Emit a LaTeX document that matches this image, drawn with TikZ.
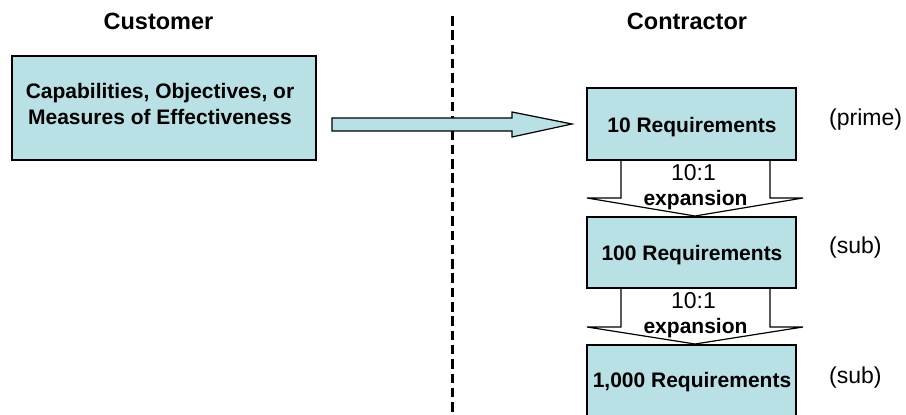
\documentclass[tikz,border=0pt]{standalone}
\usepackage{fontspec}
\setmainfont{Liberation Sans}
\definecolor{boxfill}{RGB}{185,224,228}
\tikzset{
  reqbox/.style={draw=black, line width=1.4pt, fill=boxfill, inner sep=0pt},
  boldtxt/.style={font=\fontsize{21}{26}\selectfont\bfseries, inner sep=0pt, anchor=base},
  headtxt/.style={font=\fontsize{23.5}{28}\selectfont\bfseries, inner sep=0pt, anchor=base},
  regtxt/.style={font=\fontsize{23}{28}\selectfont, inner sep=0pt, anchor=base},
  sidetxt/.style={font=\fontsize{23}{28}\selectfont, inner sep=0pt, anchor=base west},
  bigarrow/.style={draw=black, line width=1.2pt, fill=boxfill, line join=miter},
  exparrow/.style={draw=black, line width=1.2pt, fill=white, line join=miter},
  divider/.style={line width=3pt, dash pattern=on 9.5pt off 4.8pt}
}
\begin{document}
\begin{tikzpicture}[x=1pt,y=-1pt]
\useasboundingbox (0,0) rectangle (906,415);
\clip (0,0) rectangle (906,415);

% headers
\node[headtxt] (hcust) at (158.5,29) {Customer};
\node[headtxt] (hcont) at (687,29) {Contractor};

% divider
\coordinate (dtop) at (452,16);
\coordinate (dbot) at (452,420);
\draw[divider] (dtop) -- (dbot);

% expansion arrows (drawn beneath boxes)
\draw[exparrow] (621,160) -- (621,198) -- (587,198) -- (695,216) -- (803,198) -- (770,198) -- (770,160);
\draw[exparrow] (621,288) -- (621,327) -- (587,327) -- (695,344) -- (803,327) -- (770,327) -- (770,288);

% customer box
\node[reqbox, minimum width=304pt, minimum height=104pt] (cust) at (164,108) {};
\node[boldtxt] (custa) at (160,98) {Capabilities, Objectives, or};
\node[boldtxt] (custb) at (160,124) {Measures of Effectiveness};

% big arrow customer -> contractor
\draw[bigarrow] (332,118) -- (512,118) -- (512,112) -- (572,124) -- (512,137) -- (512,131) -- (332,131) -- cycle;

% requirement boxes
\node[reqbox, minimum width=209pt, minimum height=72pt] (r1) at (691.5,124) {};
\node[boldtxt] (r1t) at (692,132) {10 Requirements};
\node[reqbox, minimum width=209pt, minimum height=71pt] (r2) at (691.5,252.5) {};
\node[boldtxt] (r2t) at (692,260) {100 Requirements};
\node[reqbox, minimum width=209pt, minimum height=72pt] (r3) at (691.5,381) {};
\node[boldtxt] (r3t) at (692,387) {1,000 Requirements};

% expansion labels
\node[regtxt] (e1a) at (693.5,180) {10:1};
\node[boldtxt] (e1b) at (695.5,205) {expansion};
\node[regtxt] (e2a) at (693.5,308) {10:1};
\node[boldtxt] (e2b) at (695.5,333) {expansion};

% side labels
\node[sidetxt] (s1) at (829,125) {(prime)};
\node[sidetxt] (s2) at (829,253) {(sub)};
\node[sidetxt] (s3) at (829,383) {(sub)};
\end{tikzpicture}
\end{document}
